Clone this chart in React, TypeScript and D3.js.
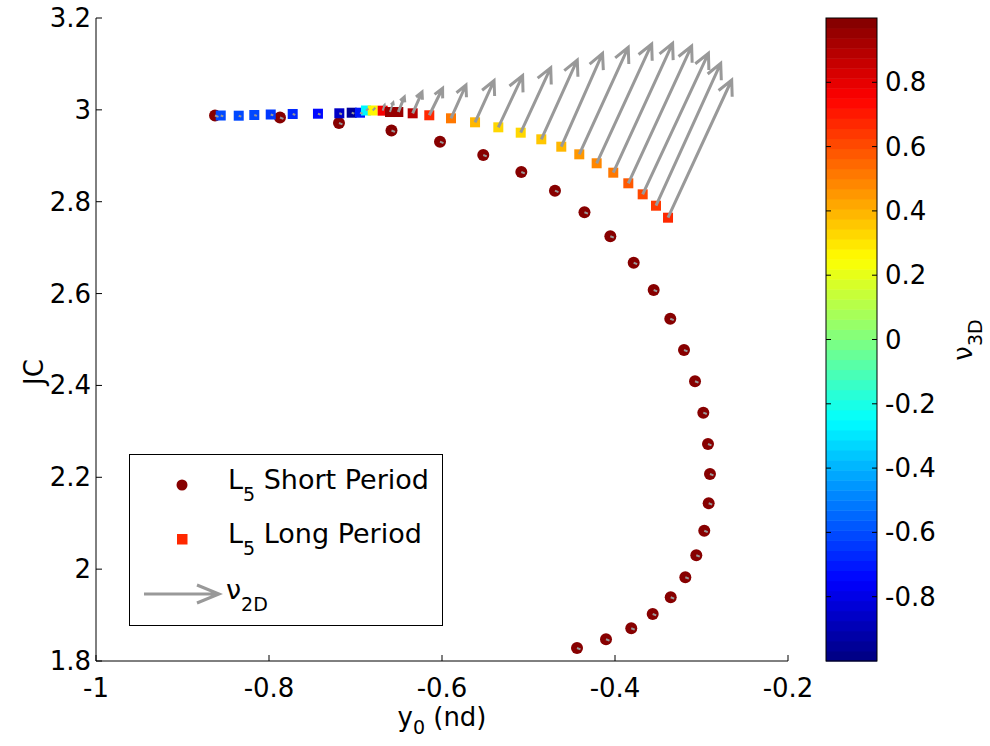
import React from "react";
import * as d3 from "d3";

// ---- data ----
const shortX = [-0.8624, -0.7873, -0.7191, -0.6584, -0.6023, -0.5523, -0.5083, -0.4694, -0.4353, -0.4054, -0.3784, -0.3553, -0.3361, -0.3202, -0.3075, -0.2979, -0.2925, -0.2902, -0.2917, -0.2968, -0.3060, -0.3187, -0.3356, -0.3564, -0.3812, -0.4104, -0.4439];
const shortY = [2.9877, 2.9834, 2.9714, 2.9551, 2.9307, 2.9017, 2.8647, 2.8240, 2.7770, 2.7247, 2.6672, 2.6078, 2.5451, 2.4772, 2.4090, 2.3407, 2.2725, 2.2072, 2.1434, 2.0837, 2.0302, 1.9823, 1.9387, 1.9024, 1.8712, 1.8473, 1.8283];
const shortC = [0.99, 0.99, 0.99, 0.99, 0.99, 0.99, 0.99, 0.99, 0.99, 0.99, 0.99, 0.99, 0.99, 0.99, 0.99, 0.99, 0.99, 0.99, 0.99, 0.99, 0.99, 0.99, 0.99, 0.99, 0.99, 0.99, 0.99];
const shortU = [0.004, 0.004, 0.004, 0.004, 0.004, 0.004, 0.004, 0.004, 0.004, 0.004, 0.004, 0.004, 0.004, 0.004, 0.004, 0.004, 0.004, 0.004, 0.004, 0.004, 0.004, 0.004, 0.004, 0.004, 0.004, 0.004, 0.004];
const shortV = [-0.003, -0.003, -0.003, -0.003, -0.003, -0.003, -0.003, -0.003, -0.003, -0.003, -0.003, -0.003, -0.003, -0.003, -0.003, -0.003, -0.003, -0.003, -0.003, -0.003, -0.003, -0.003, -0.003, -0.003, -0.003, -0.003, -0.003];

const longX = [-0.8558, -0.8350, -0.8170, -0.7980, -0.7726, -0.7434, -0.7187, -0.7044, -0.6948, -0.6879, -0.6801, -0.6686, -0.6601, -0.6505, -0.6339, -0.6147, -0.5896, -0.5618, -0.5349, -0.5090, -0.4852, -0.4621, -0.4413, -0.4212, -0.4020, -0.3846, -0.3680, -0.3526, -0.3387];
const longY = [2.9877, 2.9873, 2.9888, 2.9899, 2.9910, 2.9916, 2.9925, 2.9938, 2.9938, 2.9986, 2.9986, 2.9982, 2.9953, 2.9953, 2.9925, 2.9882, 2.9816, 2.9729, 2.9620, 2.9503, 2.9359, 2.9198, 2.9032, 2.8837, 2.8632, 2.8401, 2.8161, 2.7913, 2.7652];
const longC = [-0.62, -0.62, -0.62, -0.64, -0.66, -0.75, -0.85, -0.95, -0.7, -0.28, 0.25, 0.78, 0.95, 0.96, 0.88, 0.68, 0.5, 0.375, 0.34, 0.34, 0.37, 0.4, 0.44, 0.48, 0.53, 0.57, 0.61, 0.64, 0.68];
const longU = [0.003, 0.003, 0.003, 0.003, 0.003, 0.003, 0.003, 0.003, 0.003, 0.003, 0.003, 0.0023, 0.0038, 0.0069, 0.0108, 0.0154, 0.0173, 0.0220, 0.0281, 0.0347, 0.0416, 0.0477, 0.0566, 0.0636, 0.0686, 0.0732, 0.0760, 0.0748, 0.0736];
const longV = [-0.002, -0.002, -0.002, -0.002, -0.002, -0.002, -0.002, -0.002, -0.002, 0.004, 0.006, 0.013, 0.0218, 0.0327, 0.0464, 0.0588, 0.0725, 0.0908, 0.1126, 0.1415, 0.1727, 0.2031, 0.2330, 0.2597, 0.2815, 0.2989, 0.3070, 0.3098, 0.2998];

const xTicks = [-1, -0.8, -0.6, -0.4, -0.2];
const yTicks = [1.8, 2, 2.2, 2.4, 2.6, 2.8, 3, 3.2];
const cTicks = [-0.8, -0.6, -0.4, -0.2, 0, 0.2, 0.4, 0.6, 0.8];

// ---- helpers ----
const clamp = (v: number) => Math.max(0, Math.min(1, v));
const NLEV = 64;
function jet(t: number) {
  const idx = Math.max(0, Math.min(NLEV - 1, Math.floor(t * NLEV)));
  const tt = (idx + 0.5) / NLEV;
  const r = clamp(1.5 - Math.abs(4 * tt - 3));
  const g = clamp(1.5 - Math.abs(4 * tt - 2));
  const b = clamp(1.5 - Math.abs(4 * tt - 1));
  return d3.rgb(r * 255, g * 255, b * 255).formatHex();
}
const CMIN = -1, CMAX = 1;
const colorOf = (v: number) => jet((v - CMIN) / (CMAX - CMIN));

const FONT = "'DejaVu Sans', sans-serif";
const FS = 26;
const ARROW = "#999999";

function arrowPath(x0: number, y0: number, x1: number, y1: number) {
  const dx = x1 - x0, dy = y1 - y0;
  const len = Math.hypot(dx, dy);
  let p = `M${x0},${y0}L${x1},${y1}`;
  if (len > 6) {
    const h = Math.min(0.3 * len, 15);
    const w = 0.5 * h;
    const ux = dx / len, uy = dy / len;
    const bx = x1 - ux * h, by = y1 - uy * h;
    p += `M${bx - uy * w},${by + ux * w}L${x1},${y1}L${bx + uy * w},${by - ux * w}`;
  }
  return p;
}

export default function App() {
  const x = d3.scaleLinear().domain([-1, -0.2]).range([96, 788]);
  const y = d3.scaleLinear().domain([1.8, 3.2]).range([661, 18]);
  const cy = d3.scaleLinear().domain([CMIN, CMAX]).range([661, 18]);
  const cbX0 = 826, cbX1 = 877;
  const levels = d3.range(NLEV);

  return (
    <svg width={990} height={746} style={{ position: "absolute", left: 0, top: 0, background: "#fff" }} fontFamily={FONT}>
      <rect width={990} height={746} fill="#fff" />
      {/* short period circles */}
      {shortX.map((v, i) => (
        <circle key={"c" + i} cx={x(v)} cy={y(shortY[i])} r={6} fill={colorOf(shortC[i])} />
      ))}
      {/* long period squares */}
      {longX.map((v, i) => (
        <rect key={"s" + i} x={x(v) - 5} y={y(longY[i]) - 5} width={10} height={10} fill={colorOf(longC[i])} />
      ))}
      {/* quiver */}
      <g stroke={ARROW} strokeWidth={3} fill="none" strokeLinejoin="miter">
        {shortX.map((v, i) => (
          <path key={"qa" + i} strokeWidth={2} d={arrowPath(x(v), y(shortY[i]), x(v + shortU[i]), y(shortY[i] + shortV[i]))} />
        ))}
        {longX.map((v, i) => (
          <path key={"qb" + i} strokeWidth={longU[i] > 0.005 ? 3 : 2} d={arrowPath(x(v), y(longY[i]), x(v + longU[i]), y(longY[i] + longV[i]))} />
        ))}
      </g>

      {/* axes */}
      <g stroke="#000" strokeWidth={1} fill="none">
        <line x1={96} y1={661} x2={788} y2={661} />
        <line x1={96} y1={18} x2={96} y2={661} />
        {xTicks.map((t) => (
          <line key={"xt" + t} x1={x(t)} x2={x(t)} y1={661} y2={655} />
        ))}
        {yTicks.map((t) => (
          <line key={"yt" + t} x1={96} x2={102} y1={y(t)} y2={y(t)} />
        ))}
      </g>
      {xTicks.map((t) => (
        <text key={"xl" + t} x={x(t)} y={697} fontSize={FS} textAnchor="middle">{String(t)}</text>
      ))}
      {yTicks.map((t) => (
        <text key={"yl" + t} x={91} y={y(t) + 9} fontSize={FS} textAnchor="end">{String(t)}</text>
      ))}
      <text x={442} y={726} fontSize={FS} textAnchor="middle">
        y<tspan fontSize={19} dy={8}>0</tspan><tspan dy={-8}> (nd)</tspan>
      </text>
      <text transform="translate(43,372) rotate(-90)" fontSize={FS} textAnchor="middle">JC</text>

      {/* legend */}
      <rect x={129.5} y={454.5} width={313} height={171} fill="#fff" stroke="#000" strokeWidth={1} />
      <circle cx={182} cy={485} r={5.5} fill={colorOf(0.99)} />
      <rect x={177} y={534} width={10.5} height={10.5} fill={colorOf(0.66)} />
      <text x={228} y={489} fontSize={27}>L<tspan fontSize={19} dy={12}>5</tspan><tspan dy={-12}> Short Period</tspan></text>
      <text x={228} y={543} fontSize={27}>L<tspan fontSize={19} dy={12}>5</tspan><tspan dy={-12}> Long Period</tspan></text>
      <path d="M144,594L219,594M197,585L219,594L197,603" stroke={ARROW} strokeWidth={3} fill="none" />
      <text x={226} y={599} fontSize={27}>ν<tspan fontSize={19} dy={12}>2D</tspan></text>

      {/* colorbar */}
      {levels.map((k) => (
        <rect key={"cb" + k} x={cbX0} width={cbX1 - cbX0} y={cy(CMIN + ((k + 1) / NLEV) * (CMAX - CMIN))} height={Math.abs(cy(CMIN) - cy(CMIN + (CMAX - CMIN) / NLEV)) + 0.5} fill={jet((k + 0.5) / NLEV)} />
      ))}
      <rect x={cbX0} y={18} width={cbX1 - cbX0} height={643} fill="none" stroke="#000" strokeWidth={1} />
      <g stroke="#000" strokeWidth={1}>
        {cTicks.map((t) => (
          <g key={"ct" + t}>
            <line x1={cbX0} x2={cbX0 + 5} y1={cy(t)} y2={cy(t)} />
            <line x1={cbX1 - 5} x2={cbX1} y1={cy(t)} y2={cy(t)} />
          </g>
        ))}
      </g>
      {cTicks.map((t) => (
        <text key={"cl" + t} x={885} y={cy(t) + 9} fontSize={FS}>{String(t)}</text>
      ))}
      <text transform="translate(972,340) rotate(-90)" fontSize={FS} textAnchor="middle">ν<tspan fontSize={19} dy={10}>3D</tspan></text>
    </svg>
  );
}
